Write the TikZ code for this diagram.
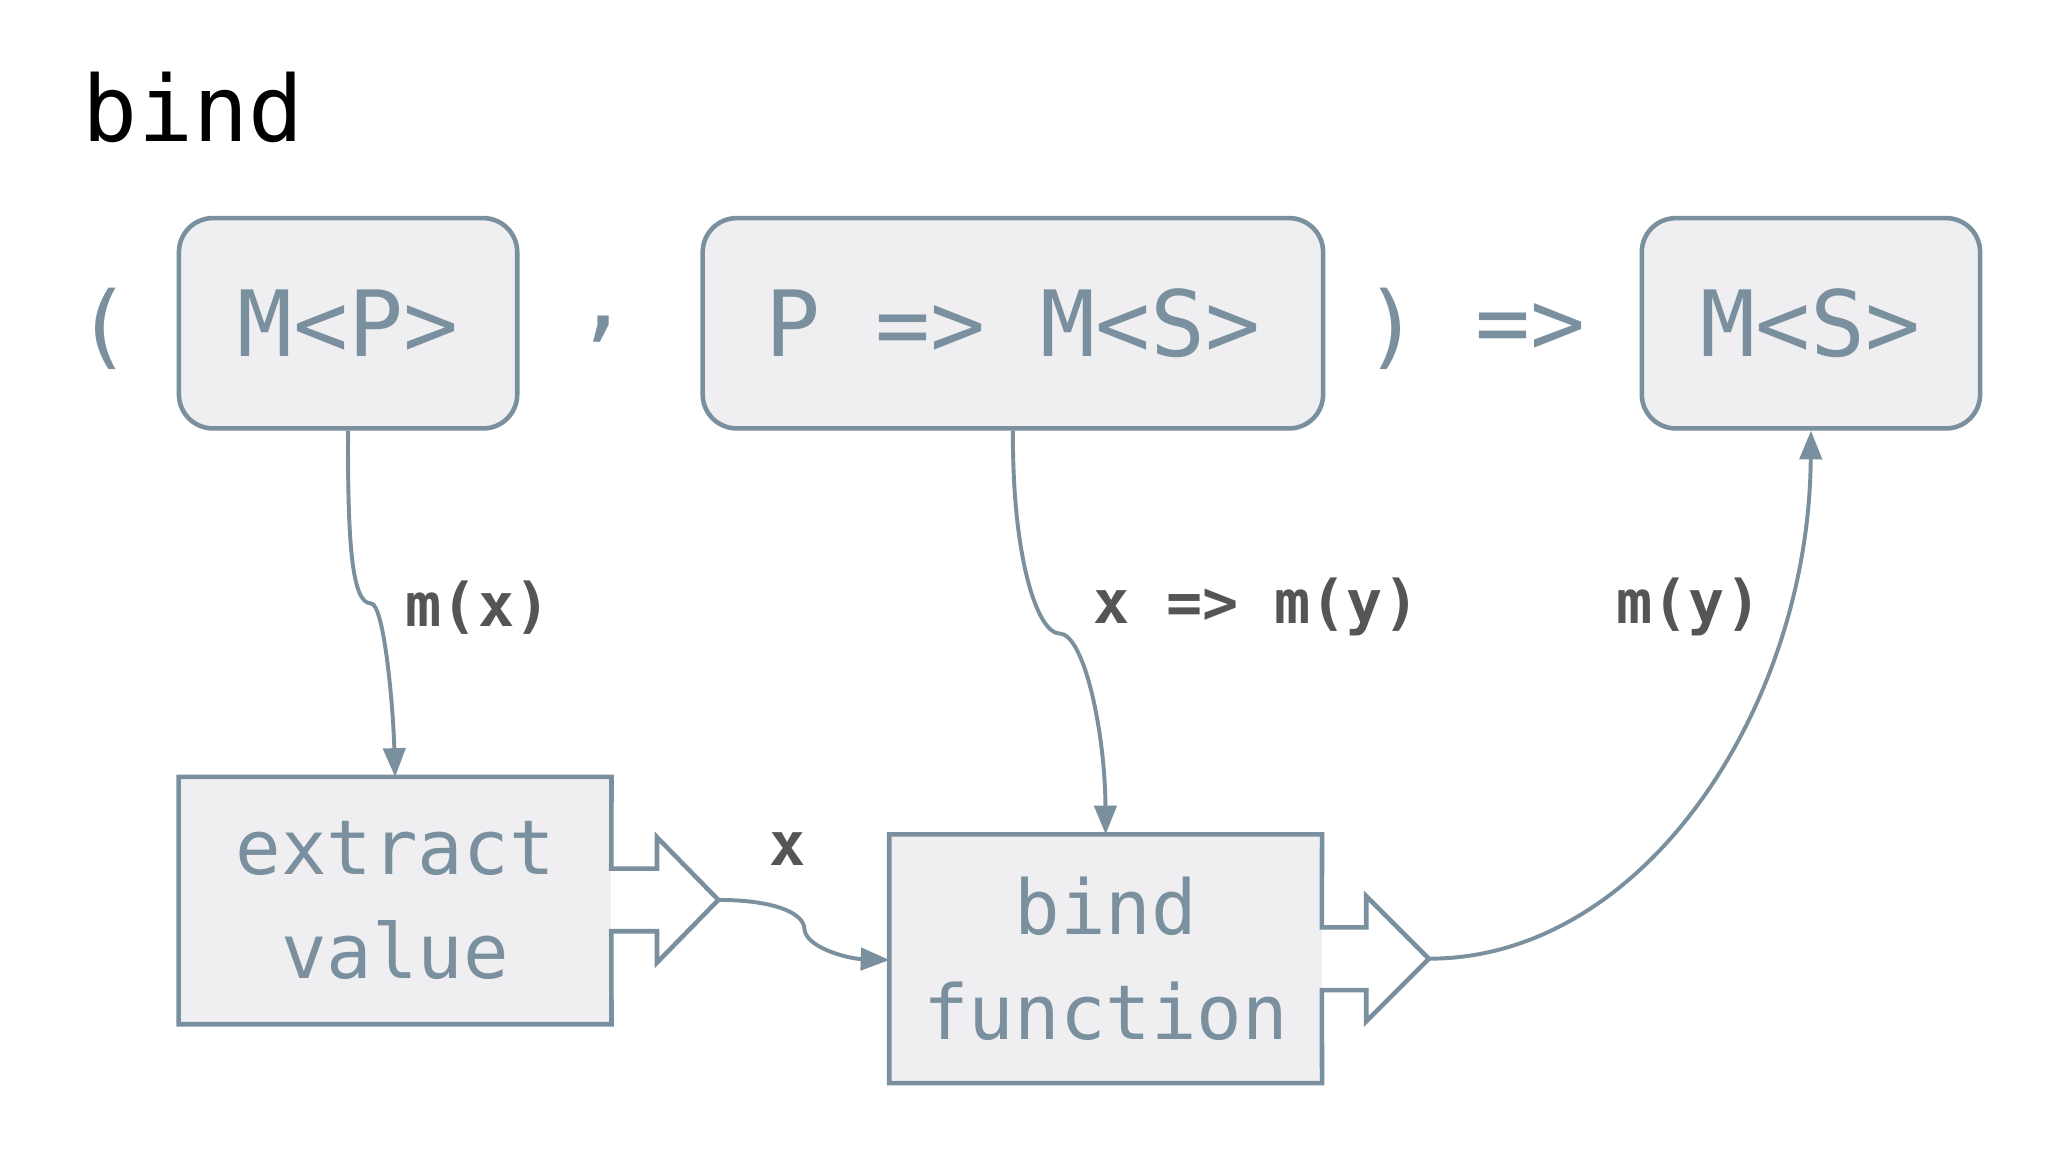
\documentclass[tikz,border=0pt]{standalone}
\usepackage{fontspec}
\setmainfont{DejaVu Sans Mono}
\usetikzlibrary{arrows.meta}
\definecolor{edge}{HTML}{7A909E}
\definecolor{boxfill}{HTML}{EFEFF1}
\definecolor{lbl}{HTML}{555555}
\begin{document}
\begin{tikzpicture}[x=1pt,y=-1pt,
  rbox/.style={draw=edge,fill=boxfill,line width=3.5pt,rounded corners=26pt,inner sep=0pt,text=edge,font=\fontsize{70}{70}\selectfont},
  sbox/.style={fill=boxfill,inner sep=0pt,text=edge,font=\fontsize{58}{80}\selectfont,align=center},
  outl/.style={draw=edge,line width=3.5pt,line join=miter},
  punct/.style={text=edge,font=\fontsize{70}{70}\selectfont},
  conn/.style={draw=edge,line width=3pt,-{Triangle[length=22pt,width=17pt]}},
  lab/.style={text=lbl,font=\fontsize{46}{46}\selectfont\bfseries}]
\useasboundingbox (0,0) rectangle (1568,882);
\fill[white] (0,0) rectangle (1568,882);
\node[anchor=west,font=\fontsize{70}{70}\selectfont] (title) at (60,82) {bind};
\node[rbox,minimum width=259pt,minimum height=161pt] (mp) at (266.5,247.5) {M<P>};
\node[rbox,minimum width=475pt,minimum height=161pt] (f) at (775.5,247.5) {P => M<S>};
\node[rbox,minimum width=259pt,minimum height=161pt] (ms) at (1386.5,247.5) {M<S>};
\node[punct] (lp) at (80,252) {(};
\node[punct] (cm) at (462,252) {,};
\node[punct] (rp) at (1066,252) {)};
\node[punct] (ar) at (1172,252) {=>};
% extract value
\node[sbox,minimum width=331pt,minimum height=189pt] (ev) at (302.5,689.5) {extract\\value};
\draw[outl] (ev.north west)--(ev.north east)--(468,665)--(503,665)--(503,641)--(550,689)--(503,737)--(503,713)--(468,713)--(ev.south east)--(ev.south west)--cycle;
\coordinate (evtip) at (550,689);
% bind function
\node[sbox,minimum width=331pt,minimum height=190pt] (bf) at (846.5,734) {bind\\function};
\draw[outl] (bf.north west)--(bf.north east)--(1012,710)--(1046,710)--(1046,686)--(1094,734)--(1046,782)--(1046,758)--(1012,758)--(bf.south east)--(bf.south west)--cycle;
\coordinate (bftip) at (1094,734);
\coordinate (bfin) at (681,735);
% connectors
\coordinate (j1) at (284,462);
\coordinate (j2) at (811,485);
\coordinate (j3) at (616,712);
\draw[conn] (mp.south) .. controls (266,420) and (270,462) .. (j1) .. controls (294,462) and (301,540) .. (ev.north);
\draw[conn] (f.south) .. controls (775,430) and (795,485) .. (j2) .. controls (830,485) and (846,560) .. (bf.north);
\draw[conn] (evtip) .. controls (590,689) and (616,698) .. (j3) .. controls (618,726) and (650,734) .. (bfin);
\draw[conn] (bftip) .. controls (1260,734) and (1385,540) .. (ms.south);
\node[lab] (l1) at (366,465) {m(x)};
\node[lab] (l2) at (962,465) {x => m(y)};
\node[lab] (l3) at (1293,465) {m(y)};
\node[lab] (l4) at (603,650) {x};
\end{tikzpicture}
\end{document}
